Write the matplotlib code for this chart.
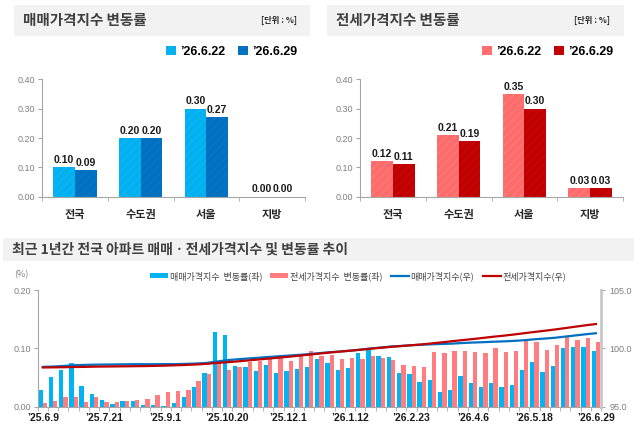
import matplotlib
matplotlib.use('Agg')
import matplotlib.pyplot as plt
import numpy as np
from matplotlib.patches import Rectangle, Patch
from matplotlib.lines import Line2D

plt.rcParams['font.family'] = ['Noto Sans CJK KR', 'DejaVu Sans']
plt.rcParams['hatch.linewidth'] = 0.8

# ---- data ----
regions = ['전국', '수도권', '서울', '지방']
sale_0622 = [0.10, 0.20, 0.30, 0.00]
sale_0629 = [0.09, 0.20, 0.27, 0.00]
jeonse_0622 = [0.12, 0.21, 0.35, 0.03]
jeonse_0629 = [0.11, 0.19, 0.30, 0.03]
legend_dates = ['’26.6.22', '’26.6.29']

sale_rate = [0.028, 0.050, 0.063, 0.074, 0.036, 0.021, 0.012, 0.005, 0.009, 0.009,
             0.002, 0.003, 0.001, 0.006, 0.016, 0.034, 0.058, 0.128, 0.123, 0.070,
             0.068, 0.061, 0.071, 0.058, 0.061, 0.064, 0.068, 0.082, 0.075, 0.063,
             0.066, 0.092, 0.097, 0.086, 0.085, 0.057, 0.055, 0.042, 0.045, 0.025,
             0.029, 0.053, 0.041, 0.033, 0.040, 0.033, 0.037, 0.062, 0.076, 0.060,
             0.070, 0.101, 0.103, 0.102, 0.095]
jeonse_rate = [0.006, 0.010, 0.016, 0.016, 0.008, 0.016, 0.008, 0.007, 0.010, 0.012,
               0.013, 0.019, 0.025, 0.027, 0.028, 0.044, 0.055, 0.077, 0.062, 0.067,
               0.077, 0.078, 0.082, 0.083, 0.078, 0.086, 0.095, 0.086, 0.089, 0.082,
               0.084, 0.082, 0.087, 0.083, 0.080, 0.071, 0.070, 0.067, 0.094, 0.092,
               0.095, 0.095, 0.093, 0.091, 0.100, 0.094, 0.095, 0.113, 0.110, 0.097,
               0.105, 0.119, 0.114, 0.118, 0.110]
sale_index = [98.40, 98.43, 98.48, 98.54, 98.57, 98.59, 98.60, 98.61, 98.62, 98.63,
              98.63, 98.63, 98.64, 98.64, 98.66, 98.69, 98.74, 98.86, 98.98, 99.05,
              99.12, 99.18, 99.25, 99.31, 99.37, 99.43, 99.50, 99.58, 99.66, 99.72,
              99.79, 99.88, 99.98, 100.06, 100.15, 100.20, 100.26, 100.30, 100.34, 100.37,
              100.40, 100.45, 100.49, 100.52, 100.56, 100.59, 100.63, 100.69, 100.77, 100.83,
              100.90, 101.00, 101.10, 101.20, 101.29]
jeonse_index = [98.35, 98.36, 98.37, 98.39, 98.40, 98.42, 98.43, 98.44, 98.45, 98.46,
                98.47, 98.49, 98.51, 98.54, 98.57, 98.61, 98.66, 98.74, 98.80, 98.87,
                98.95, 99.03, 99.11, 99.19, 99.27, 99.36, 99.45, 99.54, 99.63, 99.71,
                99.79, 99.87, 99.96, 100.04, 100.12, 100.19, 100.26, 100.33, 100.42, 100.51,
                100.61, 100.70, 100.79, 100.89, 100.99, 101.08, 101.18, 101.29, 101.40, 101.50,
                101.61, 101.73, 101.85, 101.97, 102.08]
week_labels = ['’25.6.9', '’25.7.21', '’25.9.1', '’25.10.20', '’25.12.1',
               '’26.1.12', '’26.2.23', '’26.4.6', '’26.5.18', '’26.6.29']
label_step = 6

W, H = 640, 437
fig = plt.figure(figsize=(6.4, 4.37), dpi=100)
fig.patch.set_facecolor('white')

def fx(px):
    return px / W

def fy(py):
    return 1 - py / H

def title_box(x0, x1, y0, y1, text, size, unit=None, ux=None):
    fig.patches.append(Rectangle((fx(x0), fy(y1)), fx(x1 - x0), (y1 - y0) / H,
                                 transform=fig.transFigure, facecolor='#F2F2F2',
                                 edgecolor='none', zorder=0))
    fig.text(fx(x0 + 9), fy((y0 + y1) / 2), text, fontsize=size, fontweight='bold',
             color='#404040', va='center', ha='left')
    if unit:
        fig.text(fx(ux), fy((y0 + y1) / 2), unit, fontsize=6, fontweight='bold',
                 color='#262626', va='center', ha='right')

gray = '#A6A6A6'
tick_gray = '#7F7F7F'
num_font = dict(family=['Liberation Sans', 'DejaVu Sans'], fontweight='bold')

def bar_panel(rect, v1, v2, c1, h1, c2, h2):
    ax = fig.add_axes(rect)
    x = np.arange(len(regions))
    w = 0.33
    ax.bar(x - w / 2, v1, w, color=c1, edgecolor=h1, hatch='////', linewidth=0)
    ax.bar(x + w / 2, v2, w, color=c2, edgecolor=h2, hatch='////', linewidth=0)
    for i in range(len(regions)):
        ax.text(x[i] - w / 2, v1[i] + 0.008, f'{v1[i]:.2f}', ha='center', va='bottom',
                fontsize=7.5, color='#1a1a1a', **num_font)
        ax.text(x[i] + w / 2, v2[i] + 0.008, f'{v2[i]:.2f}', ha='center', va='bottom',
                fontsize=7.5, color='#1a1a1a', **num_font)
    ax.set_xlim(-0.5, 3.5)
    ax.set_ylim(0, 0.40)
    ax.set_yticks([0, 0.1, 0.2, 0.3, 0.4])
    ax.set_yticklabels([f'{t:.2f}' for t in [0, 0.1, 0.2, 0.3, 0.4]],
                       fontsize=6.5, color=tick_gray, family=['Liberation Sans', 'DejaVu Sans'])
    ax.set_xticks(x)
    ax.set_xticklabels(regions, fontsize=8, fontweight='bold', color='#262626')
    ax.set_xticks(np.arange(-0.5, 4, 1), minor=True)
    ax.tick_params(axis='x', which='major', length=0, pad=8)
    ax.tick_params(axis='x', which='minor', length=3, color=gray, direction='out')
    ax.tick_params(axis='y', length=3, color=gray, pad=2)
    for s in ['top', 'right']:
        ax.spines[s].set_visible(False)
    ax.spines['left'].set_color(gray)
    ax.spines['bottom'].set_color(gray)
    ax.spines['left'].set_linewidth(0.8)
    ax.spines['bottom'].set_linewidth(0.8)
    return ax

# ---- top left ----
title_box(14, 310, 5, 36, '매매가격지수 변동률', 10.5, '[단위 : %]', 297)
bar_panel([fx(42), fy(196.7), fx(263), 117.4 / H], sale_0622, sale_0629,
          '#00B0F0', '#14B6F2', '#0070C0', '#0A78C6')
handles = [Patch(facecolor='#00B0F0', edgecolor='#14B6F2', hatch='////', linewidth=0),
           Patch(facecolor='#0070C0', edgecolor='#0A78C6', hatch='////', linewidth=0)]
fig.legend(handles, legend_dates, loc='center', bbox_to_anchor=(fx(232), fy(52)),
           ncol=2, frameon=False, handlelength=0.75, handleheight=0.75, handletextpad=0.4,
           columnspacing=1.0, prop={'size': 9, 'weight': 'bold',
                                    'family': ['Liberation Sans', 'DejaVu Sans']})

# ---- top right ----
title_box(327, 624, 5, 36, '전세가격지수 변동률', 10.5, '[단위 : %]', 610)
bar_panel([fx(360), fy(196.7), fx(263), 117.4 / H], jeonse_0622, jeonse_0629,
          '#FF6B6B', '#FF7D7D', '#C00000', '#CA0A0A')
handles = [Patch(facecolor='#FF6B6B', edgecolor='#FF7D7D', hatch='////', linewidth=0),
           Patch(facecolor='#C00000', edgecolor='#CA0A0A', hatch='////', linewidth=0)]
fig.legend(handles, legend_dates, loc='center', bbox_to_anchor=(fx(548), fy(52)),
           ncol=2, frameon=False, handlelength=0.75, handleheight=0.75, handletextpad=0.4,
           columnspacing=1.0, prop={'size': 9, 'weight': 'bold',
                                    'family': ['Liberation Sans', 'DejaVu Sans']})

# ---- bottom ----
title_box(3, 634, 238, 261, '최근 1년간 전국 아파트 매매ㆍ전세가격지수 및 변동률 추이', 10)

ax = fig.add_axes([fx(37.7), fy(406.5), fx(563.3), 116.5 / H])
n = len(sale_rate)
x = np.arange(n)
bw = 0.42
ax.bar(x - bw / 2, sale_rate, bw, color='#00B4F4', linewidth=0)
ax.bar(x + bw / 2, jeonse_rate, bw, color='#FF7C80', linewidth=0)
ax.set_xlim(-0.5, n - 0.5)
ax.set_ylim(0, 0.20)
ax.set_yticks([0, 0.1, 0.2])
ax.set_yticklabels(['0.00', '0.10', '0.20'], fontsize=6.5, color=tick_gray,
                   family=['Liberation Sans', 'DejaVu Sans'])
ax.set_xticks(x[::label_step])
ax.set_xticklabels(week_labels, fontsize=7.5, fontweight='bold', color='#1a1a1a',
                   family=['Liberation Sans', 'DejaVu Sans'])
ax.set_xticks(np.arange(-0.5, n, 1), minor=True)
ax.tick_params(axis='x', which='major', length=0, pad=5)
ax.tick_params(axis='x', which='minor', length=3, color=gray)
ax.tick_params(axis='y', length=3, color=gray, pad=2)
for s in ['top', 'right']:
    ax.spines[s].set_visible(False)
ax.spines['left'].set_color(gray)
ax.spines['bottom'].set_color(gray)
ax.spines['left'].set_linewidth(0.8)
ax.spines['bottom'].set_linewidth(0.8)

ax2 = ax.twinx()
ax2.plot(x, sale_index, color='#0070C0', linewidth=1.6)
ax2.plot(x, jeonse_index, color='#C00000', linewidth=1.6)
ax2.set_ylim(95, 105)
ax2.set_yticks([95, 100, 105])
ax2.set_yticklabels(['95.0', '100.0', '105.0'], fontsize=6.5, color=tick_gray,
                    family=['Liberation Sans', 'DejaVu Sans'])
ax2.tick_params(axis='y', length=3, color=gray, pad=3)
for s in ['top', 'left', 'bottom']:
    ax2.spines[s].set_visible(False)
ax2.spines['right'].set_color('#C8C8C8')
ax2.spines['right'].set_linewidth(2)

fig.text(fx(21), fy(275), '(%)', fontsize=6.5, color=tick_gray, ha='center', va='center')

leg_handles = [Patch(facecolor='#00B4F4', linewidth=0),
               Patch(facecolor='#FF7C80', linewidth=0),
               Line2D([], [], color='#0070C0', linewidth=1.6),
               Line2D([], [], color='#C00000', linewidth=1.6)]
leg_labels = ['매매가격지수  변동률(좌)', '전세가격지수  변동률(좌)', '매매가격지수(우)', '전세가격지수(우)']
fig.legend(leg_handles, leg_labels, loc='center', bbox_to_anchor=(fx(358), fy(276)),
           ncol=4, frameon=False, handlelength=2.0, handleheight=0.45, handletextpad=0.2,
           columnspacing=0.9, prop={'size': 6.5}, labelcolor='#404040')

fig.savefig('out.png', dpi=100, facecolor='white')
